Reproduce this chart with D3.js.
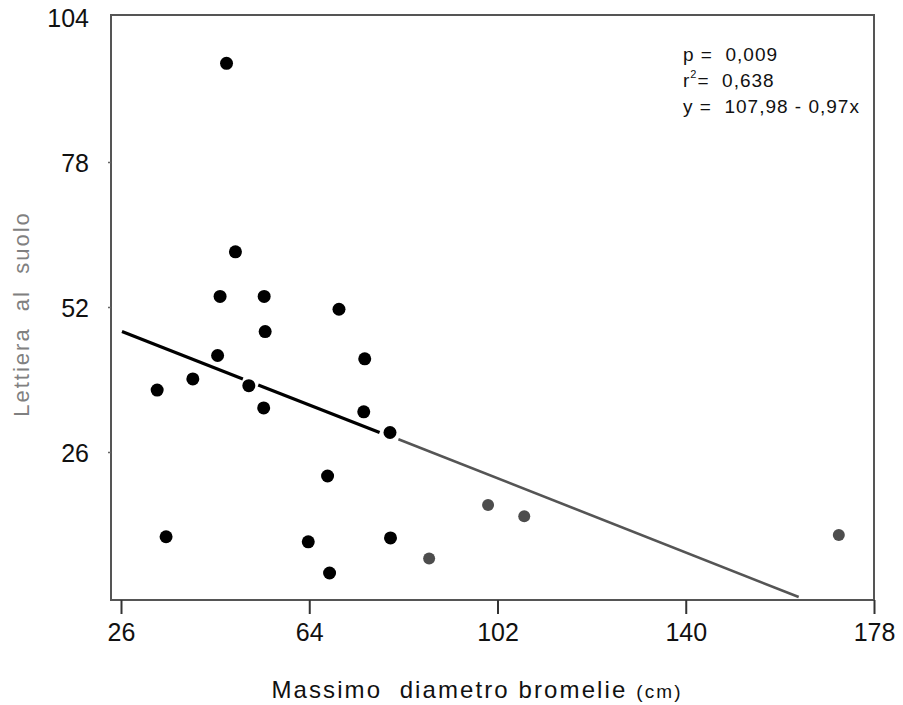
<!DOCTYPE html>
<html>
<head>
<meta charset="utf-8">
<script src="https://cdn.jsdelivr.net/npm/d3@7"></script>
<style>
  body{margin:0;background:#fff;}
  svg text{font-family:"Liberation Sans",Arial,Helvetica,sans-serif;}
</style>
</head>
<body>
<div id="chart"></div>
<script>
// dati
let xTicks = [26, 64, 102, 140, 178];
let yTicks = [26, 52, 78, 104];

// punti neri (x = diametro, y = lettiera)
let blackX = [47.3, 49.1, 46.0, 54.9, 70.0, 55.1, 45.5, 75.2, 40.5, 33.3, 51.8, 54.8, 75.0, 80.3, 67.7, 35.1, 63.8, 80.4, 68.1];
let blackY = [95.7, 61.9, 53.9, 53.9, 51.6, 47.6, 43.3, 42.7, 39.1, 37.1, 37.9, 33.9, 33.2, 29.5, 21.7, 10.8, 9.9, 10.6, 4.3];
// punti grigi
let grayX = [88.2, 100.1, 107.4, 170.9];
let grayY = [6.9, 16.5, 14.5, 11.1];

// retta di regressione: tratti neri e tratto grigio
let blackSegs = [[[26.2, 47.6], [50.6, 39.1]], [[53.7, 38.0], [78.2, 29.5]]];
let graySegs = [[[82.0, 28.3], [162.8, 0.0]]];

let statsText = ["p = 0,009", "r", "y = 107,98 - 0,97x"];

let width = 903, height = 705;
let svg = d3.select("#chart").append("svg")
    .attr("width", width)
    .attr("height", height);

let x = d3.scaleLinear().domain([26, 178]).range([121, 874]);
let y = d3.scaleLinear().domain([0, 104]).range([597, 17]);

let frame = {left: 111, top: 15, right: 874, bottom: 600};

// cornice
svg.append("rect")
    .attr("x", frame.left)
    .attr("y", frame.top)
    .attr("width", frame.right - frame.left)
    .attr("height", frame.bottom - frame.top)
    .attr("fill", "none")
    .attr("stroke", "#555")
    .attr("stroke-width", 2);

// asse x
let xAxis = svg.append("g")
    .attr("transform", `translate(0,${frame.bottom})`)
    .call(d3.axisBottom(x).tickValues(xTicks).tickSize(14).tickSizeOuter(0).tickPadding(8));
xAxis.select(".domain").remove();
xAxis.selectAll("line").attr("stroke", "#333").attr("stroke-width", 2);
xAxis.selectAll("text")
    .attr("font-size", 25)
    .attr("fill", "#111")
    .attr("dy", "0.75em");

// asse y
let yAxis = svg.append("g")
    .attr("transform", `translate(${frame.left},0)`)
    .call(d3.axisLeft(y).tickValues(yTicks).tickSize(3).tickSizeOuter(0).tickPadding(19));
yAxis.select(".domain").remove();
yAxis.selectAll("line").attr("stroke", "#666").attr("stroke-width", 1.5);
yAxis.selectAll("text")
    .attr("font-size", 25)
    .attr("fill", "#111")
    .attr("dy", "0.36em");
yAxis.selectAll(".tick").filter(d => d === 104).select("line").remove();

// retta
let line = d3.line().x(d => x(d[0])).y(d => y(d[1]));
svg.selectAll(".segB")
    .data(blackSegs)
    .enter()
    .append("path")
    .attr("class", "segB")
    .attr("d", line)
    .attr("stroke", "#000")
    .attr("stroke-width", 3.2)
    .attr("fill", "none");
svg.selectAll(".segG")
    .data(graySegs)
    .enter()
    .append("path")
    .attr("class", "segG")
    .attr("d", line)
    .attr("stroke", "#555")
    .attr("stroke-width", 2.6)
    .attr("fill", "none");

// punti
svg.selectAll(".ptB")
    .data(blackX)
    .enter()
    .append("circle")
    .attr("class", "ptB")
    .attr("cx", d => x(d))
    .attr("cy", (d, i) => y(blackY[i]))
    .attr("r", 6.5)
    .attr("fill", "#000");
svg.selectAll(".ptG")
    .data(grayX)
    .enter()
    .append("circle")
    .attr("class", "ptG")
    .attr("cx", d => x(d))
    .attr("cy", (d, i) => y(grayY[i]))
    .attr("r", 6)
    .attr("fill", "#4d4d4d");

// statistiche
let st = svg.append("g").attr("font-size", 19).attr("fill", "#111").attr("letter-spacing", 1);
st.append("text").attr("x", 683).attr("y", 61).attr("xml:space", "preserve").text("p =  0,009");
let r2 = st.append("text").attr("x", 683).attr("y", 87).attr("xml:space", "preserve");
r2.append("tspan").text(statsText[1]);
r2.append("tspan").attr("font-size", 11).attr("dy", -9).text("2");
r2.append("tspan").attr("dy", 9).text("=  0,638");
st.append("text").attr("x", 683).attr("y", 113).attr("xml:space", "preserve").text("y =  107,98 - 0,97x");

// titoli assi
let xl = svg.append("text")
    .attr("x", 477)
    .attr("y", 698)
    .attr("text-anchor", "middle")
    .attr("font-size", 24)
    .attr("fill", "#111")
    .attr("xml:space", "preserve")
    .attr("letter-spacing", 2.1);
xl.append("tspan").text("Massimo  diametro bromelie ");
xl.append("tspan").attr("font-size", 19).text("(cm)");

svg.append("text")
    .attr("transform", "translate(29,314) rotate(-90)")
    .attr("text-anchor", "middle")
    .attr("font-size", 22)
    .attr("fill", "#808080")
    .attr("xml:space", "preserve")
    .attr("letter-spacing", 2)
    .text("Lettiera  al  suolo");
</script>
</body>
</html>
